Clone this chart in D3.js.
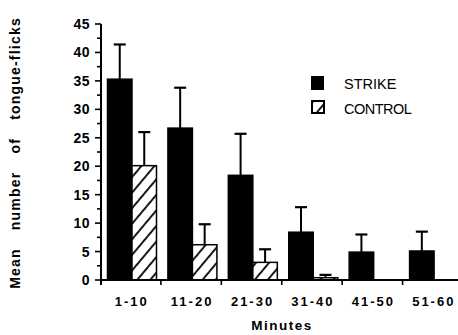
<!DOCTYPE html>
<html><head><meta charset="utf-8">
<script src="https://cdn.jsdelivr.net/npm/d3@7"></script>
<style>
html,body{margin:0;padding:0;background:#fff;}
svg{display:block;font-family:"Liberation Sans",Arial,Helvetica,sans-serif;}
</style></head>
<body>
<svg id="chart" width="458" height="335"></svg>
<script>
const categories = ["1-10","11-20","21-30","31-40","41-50","51-60"];
const seriesNames = ["STRIKE","CONTROL"];
const strikeMeans = [35.3, 26.7, 18.4, 8.4, 4.9, 5.1];
const strikeErr   = [41.4, 33.8, 25.7, 12.8, 8.0, 8.5];
const controlMeans = [20.1, 6.2, 3.1, 0.4, 0, 0];
const controlErr   = [26.0, 9.8, 5.4, 0.9, 0, 0];
const yTicks = [0,5,10,15,20,25,30,35,40,45];

const svg = d3.select("#chart");
const x = d3.scaleBand().domain(categories).range([100.5, 463]).paddingInner(0).paddingOuter(0);
const xs = d3.scaleBand().domain(seriesNames).range([7, 7 + 49]);
const y = d3.scaleLinear().domain([0, 45]).range([280, 24]);

// hatch pattern
const defs = svg.append("defs");
const pat = defs.append("pattern").attr("id","hatch").attr("patternUnits","userSpaceOnUse")
  .attr("width",10).attr("height",10).attr("patternTransform","rotate(40)");
pat.append("rect").attr("width",10).attr("height",10).attr("fill","#fff");
pat.append("line").attr("x1",5).attr("y1",0).attr("x2",5).attr("y2",10)
  .attr("stroke","#000").attr("stroke-width",1.8);

const data = [];
categories.forEach((c,i)=>{
  data.push({cat:c, s:"STRIKE", v:strikeMeans[i], e:strikeErr[i]});
  data.push({cat:c, s:"CONTROL", v:controlMeans[i], e:controlErr[i]});
});

// error bars
const eb = svg.append("g");
data.filter(d=>d.e>d.v).forEach(d=>{
  const cx = x(d.cat) + xs(d.s) + xs.bandwidth()/2;
  eb.append("line").attr("x1",cx).attr("x2",cx).attr("y1",y(d.v)).attr("y2",y(d.e))
    .attr("stroke","#000").attr("stroke-width",2);
  eb.append("line").attr("x1",cx-6).attr("x2",cx+6).attr("y1",y(d.e)).attr("y2",y(d.e))
    .attr("stroke","#000").attr("stroke-width",2.2);
});

// bars
svg.append("g").selectAll("rect").data(data.filter(d=>d.v>0)).join("rect")
  .attr("x", d=>x(d.cat)+xs(d.s))
  .attr("width", xs.bandwidth())
  .attr("y", d=>y(d.v))
  .attr("height", d=>y(0)-y(d.v))
  .attr("fill", d=>d.s==="STRIKE" ? "#000" : "url(#hatch)")
  .attr("stroke","#000").attr("stroke-width",1.5);

// y axis
const yAxisG = svg.append("g").attr("transform","translate(101,0)");
yAxisG.append("line").attr("x1",0).attr("x2",0).attr("y1",y(45)).attr("y2",285)
  .attr("stroke","#000").attr("stroke-width",2);
const minor = d3.range(0, 45.01, 2.5);
yAxisG.selectAll("line.t").data(minor).join("line").attr("class","t")
  .attr("x1", d=> d%5===0 ? -6 : -4).attr("x2",0)
  .attr("y1", d=>y(d)).attr("y2", d=>y(d)).attr("stroke","#000").attr("stroke-width",1.6);
yAxisG.selectAll("text").data(yTicks).join("text")
  .attr("x",-11).attr("y",d=>y(d)).attr("dy","0.36em")
  .attr("text-anchor","end").attr("font-size",14).attr("font-weight","bold")
  .attr("letter-spacing",0.5).text(d=>d);

// x axis
const xAxisG = svg.append("g");
xAxisG.append("line").attr("x1",100).attr("x2",458).attr("y1",y(0)).attr("y2",y(0))
  .attr("stroke","#000").attr("stroke-width",2);
xAxisG.selectAll("line.t").data(categories.slice(1)).join("line").attr("class","t")
  .attr("x1",d=>x(d)).attr("x2",d=>x(d)).attr("y1",y(0)).attr("y2",y(0)+5)
  .attr("stroke","#000").attr("stroke-width",1.6);
xAxisG.selectAll("text").data(categories).join("text")
  .attr("x",d=>x(d)+x.bandwidth()/2+1).attr("y",306)
  .attr("text-anchor","middle").attr("font-size",13).attr("font-weight","bold")
  .attr("letter-spacing",2).text(d=>d);

// axis titles
svg.append("text").attr("x",282).attr("y",330).attr("text-anchor","middle")
  .attr("font-size",13.5).attr("font-weight","bold").attr("letter-spacing",1.5).text("Minutes");
svg.append("text").attr("transform","translate(20,153) rotate(-90)").attr("text-anchor","middle")
  .attr("font-size",14).attr("font-weight","bold").attr("letter-spacing",1.2).attr("word-spacing",13)
  .text("Mean number of tongue-flicks");

// legend
const lg = svg.append("g");
lg.append("rect").attr("x",311).attr("y",76).attr("width",13).attr("height",14).attr("fill","#000");
lg.append("rect").attr("x",312).attr("y",101).attr("width",12).attr("height",12)
  .attr("fill","url(#hatch)").attr("stroke","#000").attr("stroke-width",2);
lg.append("text").attr("x",344).attr("y",89).attr("font-size",14.5).text(seriesNames[0]);
lg.append("text").attr("x",344).attr("y",114).attr("font-size",14.5).attr("letter-spacing",-0.5).text(seriesNames[1]);
</script>
</body></html>
